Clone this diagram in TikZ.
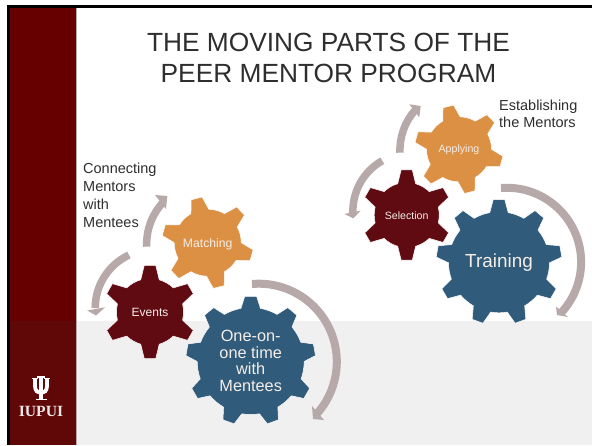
\documentclass[tikz,border=0pt]{standalone}
\usepackage{fontspec}
\setmainfont{Liberation Sans}
\newfontfamily\logofont{Liberation Serif}
\definecolor{barTop}{HTML}{660000}
\definecolor{barLow}{HTML}{600808}
\definecolor{floorGrey}{HTML}{F0F0F0}
\definecolor{arrowGrey}{HTML}{B7A9A9}
\definecolor{gearOrange}{HTML}{DC9044}
\definecolor{gearMaroon}{HTML}{600A12}
\definecolor{gearBlue}{HTML}{305B7B}
\definecolor{inkDark}{HTML}{2E2E2E}
\definecolor{gearText}{HTML}{F4EEE8}
\tikzset{
  gearshape/.style={draw=white,line width=0.5pt,line join=round},
  flowarc/.style={draw=arrowGrey,line width=#1},
  flowhead/.style={fill=arrowGrey},
  geartext/.style={text=gearText,align=center,inner sep=0pt},
  caption/.style={text=inkDark,align=left,anchor=north west,inner sep=0pt}
}
% #1 cx, #2 cy, #3 body r, #4 tip R, #5 teeth, #6 first angle, #7 colour, #8 base half angle, #9 tip half angle
\newcommand{\gearat}[9]{%
  \pgfmathsetmacro{\gearstep}{360/#5}%
  \pgfmathsetmacro{\gearlast}{#6+360-\gearstep/2}%
  \pgfmathsetmacro{\gearnext}{#6+\gearstep}%
  \filldraw[gearshape,fill=#7,shift={(#1,#2)}] ({#6-#8}:#3)
    \foreach \ga in {#6,\gearnext,...,\gearlast} {
      -- ({\ga-#9}:#4) -- ({\ga+#9}:#4) -- ({\ga+#8}:#3)
      arc[start angle={\ga+#8},end angle={\ga+\gearstep-#8},radius=#3]
    } -- cycle;%
}
\begin{document}
\begin{tikzpicture}[x=1pt,y=-1pt]
\useasboundingbox (0,0) rectangle (592,445);
% slide background
\fill[white] (0,0) rectangle (592,445);
\fill[floorGrey] (77,321) rectangle (592,445);
\fill[black] (7,5) rectangle (592,7.5);
\fill[black] (7,5) rectangle (10,445);
\fill[barTop] (10,7.5) rectangle (76,321);
\fill[barLow] (10,321) rectangle (76,445);
\fill[arrowGrey] (76,7.5) rectangle (77,445);
% title
\node[text=inkDark,align=center,inner sep=0pt,font=\fontsize{26.3}{31}\selectfont] (title) at (328.5,58)
  {THE MOVING PARTS OF THE\\PEER MENTOR PROGRAM};
% captions
\node[caption,font=\fontsize{14.5}{18}\selectfont] (connecting) at (83,163) {Connecting\\Mentors\\with\\Mentees};
\node[caption,font=\fontsize{14.5}{17}\selectfont] (establishing) at (499,100) {Establishing\\the Mentors};
% flow arrows, left group
\coordinate (la) at (252,284);
\draw[flowarc=8pt] (la) arc[start angle=-95,end angle=42,radius=78];
\coordinate (laA) at (312,406); \coordinate (laB) at (324,420); \coordinate (laT) at (313,419);
\fill[flowhead] (laA) -- (laT) -- (laB) -- cycle;
\coordinate (lb) at (146.7,246.7);
\draw[flowarc=7.5pt] (lb) arc[start angle=177.5,end angle=223,radius=61];
\coordinate (lbA) at (155,195); \coordinate (lbB) at (166,209); \coordinate (lbT) at (167.3,196);
\fill[flowhead] (lbA) -- (lbT) -- (lbB) -- cycle;
\coordinate (lc) at (129,255);
\draw[flowarc=7.5pt] (lc) arc[start angle=245,end angle=180,radius=58.5];
\coordinate (lcA) at (87.3,310.5); \coordinate (lcB) at (105,307.3); \coordinate (lcT) at (96,315.5);
\fill[flowhead] (lcA) -- (lcT) -- (lcB) -- cycle;
% flow arrows, right group
\coordinate (ra) at (501,188);
\draw[flowarc=8pt] (ra) arc[start angle=-94.5,end angle=43,radius=74.3];
\coordinate (raA) at (556,306.5); \coordinate (raB) at (568,317); \coordinate (raT) at (557,315);
\fill[flowhead] (raA) -- (raT) -- (raB) -- cycle;
\coordinate (rb) at (400,152.7);
\draw[flowarc=7.5pt] (rb) arc[start angle=177.4,end angle=222.5,radius=59.7];
\coordinate (rbA) at (409.3,104.3); \coordinate (rbB) at (419.3,117.3); \coordinate (rbT) at (420.7,106);
\fill[flowhead] (rbA) -- (rbT) -- (rbB) -- cycle;
\coordinate (rc) at (382.3,160.7);
\draw[flowarc=7.5pt] (rc) arc[start angle=240.5,end angle=177,radius=58];
\coordinate (rcA) at (344.3,214); \coordinate (rcB) at (360.7,210.7); \coordinate (rcT) at (353.3,218.3);
\fill[flowhead] (rcA) -- (rcT) -- (rcB) -- cycle;
% gears, left group
\gearat{207.7}{242.7}{33.5}{46}{6}{-44}{gearOrange}{16}{7}
\gearat{150}{312}{33.5}{47}{6}{-90}{gearMaroon}{16}{7}
\gearat{250.7}{361}{53.5}{65}{9}{-90}{gearBlue}{10.5}{5.2}
\node[geartext,font=\fontsize{12.2}{14}\selectfont] (matching) at (207.7,244) {Matching};
\node[geartext,font=\fontsize{12}{14}\selectfont] (events) at (150,312.5) {Events};
\node[geartext,font=\fontsize{16.3}{16.7}\selectfont] (oneonone) at (250.7,361) {One-on-\\one time\\with\\Mentees};
% gears, right group
\gearat{459}{149.3}{32.5}{44.5}{6}{-44}{gearOrange}{16}{7}
\gearat{406.7}{215}{32.5}{45.5}{6}{-90}{gearMaroon}{16}{7}
\gearat{499}{262.3}{50.5}{63}{9}{-90}{gearBlue}{10.5}{5.2}
\node[geartext,font=\fontsize{10.6}{12}\selectfont] (applying) at (459,149.5) {Applying};
\node[geartext,font=\fontsize{10.6}{12}\selectfont] (selection) at (406.7,215.5) {Selection};
\node[geartext,font=\fontsize{18.9}{20}\selectfont] (training) at (499,263) {Training};
% logo
\begin{scope}[white]
  \fill (39,377) rectangle (43,398.5);
  \fill (37,375.8) rectangle (45,377.6);
  \fill (35.5,398.5) rectangle (46.5,400.3);
  \draw[line width=3.8pt] (35,378) -- (35,386) .. controls (35,391) and (38,393) .. (41,393);
  \draw[line width=3.8pt] (47,378) -- (47,386) .. controls (47,391) and (44,393) .. (41,393);
  \fill (32,377.6) rectangle (38,379.2);
  \fill (44,377.6) rectangle (50,379.2);
\end{scope}
\node[text=white!90!barLow,inner sep=0pt,font=\logofont\bfseries\fontsize{15.6}{16}\selectfont] (iupui) at (41,411.5) {IUPUI};
\end{tikzpicture}
\end{document}
